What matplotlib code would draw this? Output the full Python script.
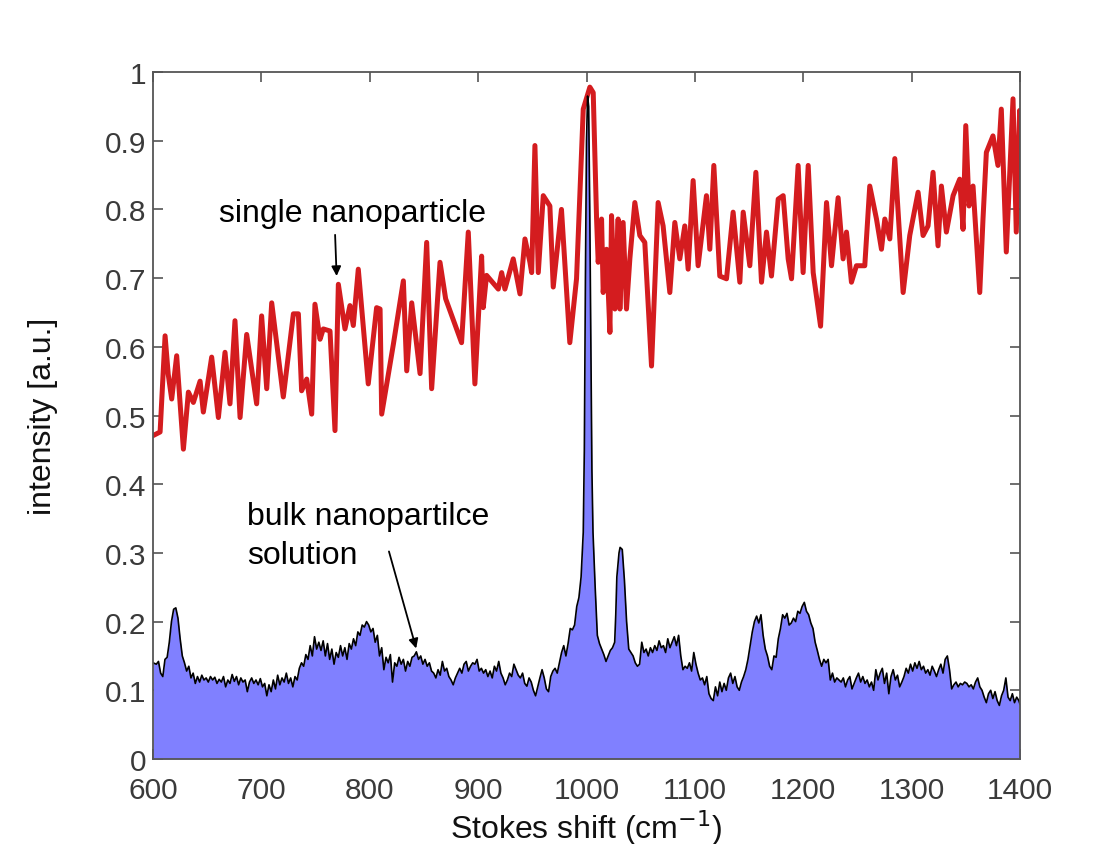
import numpy as np
import matplotlib
matplotlib.use("Agg")
import matplotlib.pyplot as plt

plt.rcParams['font.family'] = ['Liberation Sans', 'DejaVu Sans']

# single nanoparticle spectrum (Stokes shift, intensity)
single_points = [
    (600.3, 0.471), (606.5, 0.476), (611.1, 0.616), (614.0, 0.560), (617.2, 0.524),
    (621.8, 0.587), (628.0, 0.451), (632.6, 0.534), (637.2, 0.519), (643.4, 0.550),
    (646.4, 0.505), (654.1, 0.585), (660.3, 0.497), (666.4, 0.592), (671.0, 0.517),
    (675.6, 0.638), (680.3, 0.497), (686.4, 0.618), (695.6, 0.517), (700.2, 0.645),
    (704.9, 0.539), (709.5, 0.664), (720.2, 0.527), (729.5, 0.648), (734.1, 0.648),
    (737.1, 0.536), (741.8, 0.553), (746.4, 0.502), (749.4, 0.662), (754.1, 0.611),
    (757.1, 0.626), (763.3, 0.623), (767.9, 0.478), (771.0, 0.691), (777.1, 0.626),
    (781.7, 0.660), (784.8, 0.631), (789.4, 0.713), (798.6, 0.546), (806.3, 0.657),
    (809.5, 0.655), (811.0, 0.502), (821.8, 0.604), (831.0, 0.696), (834.1, 0.565),
    (838.7, 0.664), (846.4, 0.561), (852.5, 0.752), (857.1, 0.539), (864.8, 0.723),
    (870.0, 0.670), (884.7, 0.606), (890.9, 0.767), (897.0, 0.546), (903.2, 0.732),
    (904.7, 0.657), (907.8, 0.704), (918.6, 0.684), (921.7, 0.708), (924.7, 0.684),
    (932.4, 0.728), (938.6, 0.677), (943.2, 0.757), (947.8, 0.723), (949.4, 0.708),
    (952.4, 0.893), (955.5, 0.708), (960.1, 0.820), (966.2, 0.805), (969.3, 0.687),
    (976.9, 0.800), (984.6, 0.606), (990.8, 0.699), (997.0, 0.946), (1003.1, 0.978),
    (1006.2, 0.970), (1009.3, 0.786), (1010.8, 0.723), (1013.9, 0.786), (1015.4, 0.679),
    (1018.5, 0.742), (1021.6, 0.621), (1023.1, 0.791), (1026.2, 0.655), (1029.2, 0.786),
    (1030.8, 0.655), (1033.8, 0.781), (1036.9, 0.655), (1040.0, 0.728), (1044.6, 0.810),
    (1049.2, 0.762), (1053.8, 0.752), (1060.0, 0.572), (1066.1, 0.810), (1070.7, 0.776),
    (1076.9, 0.679), (1081.5, 0.781), (1086.1, 0.728), (1090.7, 0.776), (1093.8, 0.713),
    (1098.4, 0.842), (1103.0, 0.718), (1110.7, 0.820), (1113.8, 0.742), (1117.5, 0.864),
    (1123.0, 0.703), (1129.2, 0.699), (1135.3, 0.796), (1141.5, 0.694), (1144.6, 0.796),
    (1150.7, 0.718), (1156.3, 0.854), (1161.5, 0.694), (1166.1, 0.767), (1170.7, 0.703),
    (1176.9, 0.815), (1181.5, 0.820), (1186.1, 0.728), (1189.2, 0.699), (1195.3, 0.864),
    (1199.9, 0.708), (1204.6, 0.864), (1209.2, 0.708), (1216.0, 0.630), (1221.5, 0.810),
    (1226.1, 0.718), (1232.2, 0.817), (1236.8, 0.728), (1239.9, 0.767), (1244.5, 0.694),
    (1249.1, 0.718), (1256.8, 0.718), (1261.4, 0.834), (1267.6, 0.786), (1272.2, 0.742),
    (1275.3, 0.786), (1279.9, 0.757), (1284.5, 0.874), (1292.2, 0.679), (1298.3, 0.762),
    (1306.0, 0.825), (1310.6, 0.762), (1315.2, 0.776), (1319.8, 0.854), (1324.4, 0.747),
    (1327.5, 0.834), (1332.1, 0.767), (1338.3, 0.820), (1344.4, 0.844), (1347.5, 0.771),
    (1350.0, 0.922), (1353.0, 0.805), (1356.7, 0.834), (1362.9, 0.679), (1365.9, 0.786),
    (1369.0, 0.883), (1375.1, 0.907), (1379.7, 0.864), (1382.8, 0.946), (1387.4, 0.738),
    (1393.6, 0.961), (1396.6, 0.767), (1399.7, 0.944), (1400.0, 0.912),
]

# bulk nanoparticle solution spectrum (Stokes shift, intensity)
bulk_points = [
    (600, 0.140), (603, 0.138), (605, 0.142), (607, 0.125), (609, 0.120), (611, 0.145),
    (613, 0.148), (615, 0.170), (617, 0.200), (619, 0.218), (621, 0.220), (623, 0.205),
    (625, 0.175), (627, 0.150), (629, 0.140), (631, 0.128), (633, 0.135), (635, 0.118),
    (637, 0.125), (639, 0.110), (641, 0.120), (643, 0.112), (645, 0.122), (647, 0.115),
    (649, 0.118), (651, 0.112), (653, 0.120), (655, 0.115), (657, 0.119), (659, 0.110),
    (661, 0.116), (663, 0.112), (665, 0.120), (667, 0.105), (669, 0.115), (671, 0.110),
    (673, 0.123), (675, 0.113), (677, 0.120), (679, 0.108), (681, 0.118), (683, 0.112),
    (685, 0.115), (687, 0.098), (689, 0.112), (691, 0.118), (693, 0.110), (695, 0.115),
    (697, 0.108), (699, 0.117), (701, 0.105), (703, 0.110), (705, 0.092), (707, 0.108),
    (709, 0.098), (711, 0.115), (713, 0.102), (715, 0.122), (717, 0.108), (719, 0.118),
    (721, 0.112), (723, 0.125), (725, 0.110), (727, 0.118), (729, 0.105), (731, 0.120),
    (733, 0.115), (735, 0.132), (737, 0.140), (739, 0.135), (741, 0.152), (743, 0.145),
    (745, 0.165), (747, 0.150), (749, 0.178), (751, 0.160), (753, 0.170), (755, 0.158),
    (757, 0.172), (759, 0.150), (761, 0.168), (763, 0.145), (765, 0.160), (767, 0.138),
    (769, 0.155), (771, 0.148), (773, 0.165), (775, 0.150), (777, 0.162), (779, 0.145),
    (781, 0.168), (783, 0.160), (785, 0.175), (787, 0.165), (789, 0.185), (791, 0.180),
    (793, 0.195), (795, 0.192), (797, 0.200), (799, 0.195), (801, 0.185), (803, 0.190),
    (805, 0.170), (807, 0.180), (809, 0.150), (811, 0.162), (813, 0.130), (815, 0.148),
    (817, 0.140), (819, 0.152), (821, 0.112), (823, 0.140), (825, 0.135), (827, 0.148),
    (829, 0.138), (831, 0.145), (833, 0.128), (835, 0.142), (837, 0.135), (839, 0.148),
    (841, 0.150), (843, 0.156), (845, 0.145), (847, 0.150), (849, 0.138), (851, 0.145),
    (853, 0.135), (855, 0.140), (857, 0.128), (859, 0.125), (861, 0.118), (863, 0.130),
    (865, 0.122), (867, 0.142), (869, 0.128), (871, 0.132), (873, 0.120), (875, 0.115),
    (877, 0.108), (879, 0.118), (881, 0.125), (883, 0.132), (885, 0.125), (887, 0.138),
    (889, 0.142), (891, 0.128), (893, 0.135), (895, 0.140), (897, 0.138), (899, 0.145),
    (901, 0.128), (903, 0.132), (905, 0.125), (907, 0.130), (909, 0.120), (911, 0.128),
    (913, 0.118), (915, 0.135), (917, 0.128), (919, 0.142), (921, 0.125), (923, 0.118),
    (925, 0.108), (927, 0.115), (929, 0.125), (931, 0.120), (933, 0.138), (935, 0.130),
    (937, 0.122), (939, 0.118), (941, 0.125), (943, 0.110), (945, 0.106), (947, 0.118),
    (949, 0.112), (951, 0.100), (953, 0.092), (955, 0.105), (957, 0.118), (959, 0.130),
    (961, 0.118), (963, 0.102), (965, 0.098), (967, 0.120), (969, 0.128), (971, 0.132),
    (973, 0.125), (975, 0.140), (977, 0.155), (979, 0.165), (981, 0.150), (983, 0.168),
    (985, 0.190), (987, 0.188), (989, 0.195), (991, 0.222), (993, 0.235), (995, 0.265),
    (997, 0.330), (998, 0.450), (999, 0.700), (1000, 0.900), (1001, 0.965), (1002, 0.950),
    (1003, 0.800), (1004, 0.600), (1005, 0.420), (1006, 0.330), (1008, 0.250), (1010, 0.180),
    (1012, 0.168), (1014, 0.160), (1016, 0.152), (1018, 0.142), (1020, 0.150), (1022, 0.158),
    (1024, 0.162), (1026, 0.170), (1027, 0.210), (1028, 0.265), (1030, 0.300), (1031, 0.308),
    (1033, 0.305), (1035, 0.260), (1037, 0.200), (1039, 0.160), (1041, 0.155), (1043, 0.150),
    (1045, 0.140), (1047, 0.135), (1049, 0.138), (1051, 0.170), (1053, 0.155), (1055, 0.160),
    (1057, 0.150), (1059, 0.162), (1061, 0.155), (1063, 0.165), (1065, 0.158), (1067, 0.172),
    (1069, 0.162), (1071, 0.165), (1073, 0.155), (1075, 0.175), (1077, 0.162), (1079, 0.170),
    (1081, 0.178), (1083, 0.165), (1085, 0.180), (1087, 0.150), (1089, 0.130), (1091, 0.135),
    (1093, 0.132), (1095, 0.140), (1097, 0.128), (1099, 0.155), (1101, 0.138), (1103, 0.125),
    (1105, 0.115), (1107, 0.118), (1109, 0.108), (1111, 0.120), (1113, 0.095), (1115, 0.088),
    (1117, 0.085), (1119, 0.105), (1121, 0.092), (1123, 0.112), (1125, 0.098), (1127, 0.110),
    (1129, 0.100), (1131, 0.118), (1133, 0.125), (1135, 0.110), (1137, 0.120), (1139, 0.105),
    (1141, 0.100), (1143, 0.112), (1145, 0.120), (1147, 0.130), (1149, 0.145), (1151, 0.165),
    (1153, 0.185), (1155, 0.200), (1157, 0.208), (1159, 0.198), (1161, 0.210), (1163, 0.180),
    (1165, 0.160), (1167, 0.150), (1169, 0.135), (1171, 0.130), (1173, 0.150), (1175, 0.148),
    (1177, 0.175), (1179, 0.190), (1181, 0.210), (1183, 0.205), (1185, 0.212), (1187, 0.195),
    (1189, 0.198), (1191, 0.205), (1193, 0.200), (1195, 0.215), (1197, 0.212), (1199, 0.222),
    (1201, 0.228), (1203, 0.215), (1205, 0.210), (1207, 0.198), (1209, 0.190), (1211, 0.170),
    (1213, 0.158), (1215, 0.145), (1217, 0.135), (1219, 0.145), (1221, 0.140), (1223, 0.145),
    (1225, 0.115), (1227, 0.125), (1229, 0.112), (1231, 0.118), (1233, 0.115), (1235, 0.112),
    (1237, 0.118), (1239, 0.105), (1241, 0.115), (1243, 0.120), (1245, 0.102), (1247, 0.110),
    (1249, 0.118), (1251, 0.125), (1253, 0.112), (1255, 0.120), (1257, 0.110), (1259, 0.115),
    (1261, 0.105), (1263, 0.112), (1265, 0.100), (1267, 0.130), (1269, 0.115), (1271, 0.125),
    (1273, 0.132), (1275, 0.110), (1277, 0.125), (1279, 0.095), (1281, 0.120), (1283, 0.130),
    (1285, 0.115), (1287, 0.122), (1289, 0.105), (1291, 0.112), (1293, 0.120), (1295, 0.132),
    (1297, 0.125), (1299, 0.138), (1301, 0.128), (1303, 0.140), (1305, 0.132), (1307, 0.142),
    (1309, 0.130), (1311, 0.135), (1313, 0.125), (1315, 0.130), (1317, 0.122), (1319, 0.135),
    (1321, 0.128), (1323, 0.120), (1325, 0.130), (1327, 0.138), (1329, 0.125), (1331, 0.145),
    (1333, 0.150), (1335, 0.130), (1337, 0.102), (1339, 0.108), (1341, 0.112), (1343, 0.105),
    (1345, 0.110), (1347, 0.108), (1349, 0.112), (1351, 0.110), (1353, 0.105), (1355, 0.108),
    (1357, 0.102), (1359, 0.112), (1361, 0.118), (1363, 0.105), (1365, 0.100), (1367, 0.090),
    (1369, 0.082), (1371, 0.095), (1373, 0.100), (1375, 0.088), (1377, 0.098), (1379, 0.085),
    (1381, 0.078), (1383, 0.092), (1385, 0.100), (1387, 0.118), (1389, 0.090), (1391, 0.085),
    (1393, 0.095), (1395, 0.082), (1397, 0.090), (1399, 0.085), (1400, 0.080),
]

x_ticks = [600, 700, 800, 900, 1000, 1100, 1200, 1300, 1400]
y_ticks = [0, 0.1, 0.2, 0.3, 0.4, 0.5, 0.6, 0.7, 0.8, 0.9, 1]
y_tick_labels = ['0', '0.1', '0.2', '0.3', '0.4', '0.5', '0.6', '0.7', '0.8', '0.9', '1']

single_x, single_y = np.array(single_points).T
bulk_x, bulk_y = np.array(bulk_points).T

fig = plt.figure(figsize=(11.18, 8.45), dpi=100)
ax = fig.add_axes([0.1369, 0.1006, 0.7754, 0.8130])

ax.plot(single_x, single_y, color='#d41c1f', lw=3.6, zorder=2)
ax.fill_between(bulk_x, 0, bulk_y, color='#8080ff', lw=0, zorder=3)
ax.plot(bulk_x, bulk_y, color='black', lw=1.2, zorder=4)

ax.set_xlim(600, 1400)
ax.set_ylim(0, 1)
ax.set_xticks(x_ticks)
ax.set_yticks(y_ticks)
ax.set_yticklabels(y_tick_labels)

grey = '#3a3a3a'
for s in ax.spines.values():
    s.set_color('#555555')
    s.set_linewidth(1.3)
    s.set_zorder(5)
ax.tick_params(direction='in', length=7, width=1.2, colors='#555555',
               labelcolor=grey, labelsize=21.5, top=True, right=True)
ax.tick_params(axis='x', pad=12)
ax.tick_params(axis='y', pad=5)

ax.set_xlabel('Stokes shift (cm$^{-1}$)', fontsize=23, color='#111111', va='top')
ax.xaxis.set_label_coords(0.5, -0.071)
ax.set_ylabel('intensity [a.u.]', fontsize=23, color='#111111')
ax.yaxis.set_label_coords(-0.11, 0.5)

ax.text(660.5, 0.783, 'single nanoparticle', fontsize=23, va='baseline', ha='left')
ax.annotate('', xy=(769.5, 0.699), xytext=(767.9, 0.767),
            arrowprops=dict(arrowstyle='-|>', color='black', lw=1.3,
                            mutation_scale=14))

ax.text(686.4, 0.342, 'bulk nanopartilce', fontsize=23, va='baseline', ha='left')
ax.text(686.4, 0.286, 'solution', fontsize=23, va='baseline', ha='left')
ax.annotate('', xy=(843.5, 0.157), xytext=(817.0, 0.306),
            arrowprops=dict(arrowstyle='-|>', color='black', lw=1.3,
                            mutation_scale=14))

fig.savefig('out.png', dpi=100)
